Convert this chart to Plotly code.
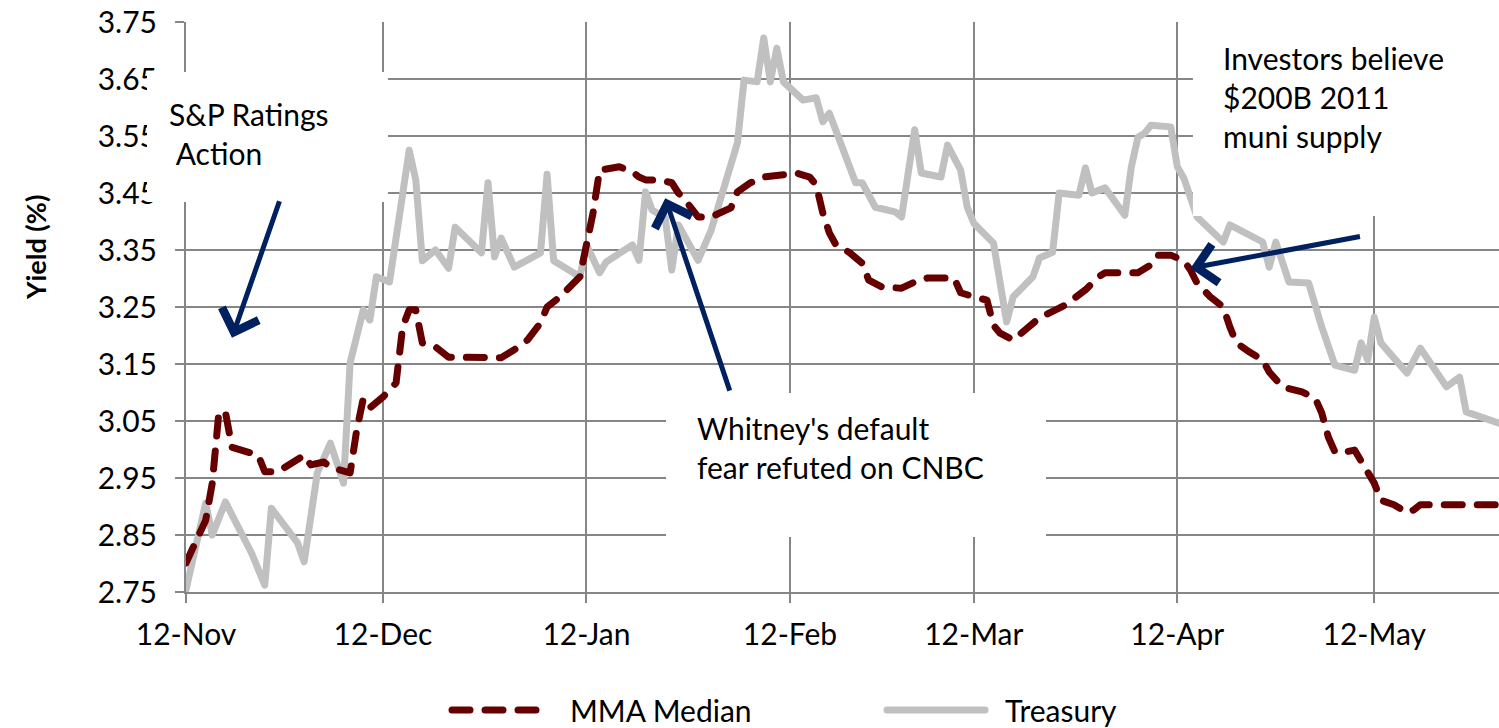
import plotly.graph_objects as go

# ---------------- data ----------------
month_ticks = ["2010-11-12", "2010-12-12", "2011-01-12", "2011-02-12",
               "2011-03-12", "2011-04-12", "2011-05-12"]
month_labels = ["12-Nov", "12-Dec", "12-Jan", "12-Feb", "12-Mar", "12-Apr", "12-May"]

y_ticks = [2.75, 2.85, 2.95, 3.05, 3.15, 3.25, 3.35, 3.45, 3.55, 3.65, 3.75]
y_labels = ["2.75", "2.85", "2.95", "3.05", "3.15", "3.25", "3.35", "3.45", "3.55", "3.65", "3.75"]

treasury_dates = [
    "2010-11-12", "2010-11-15", "2010-11-16", "2010-11-18", "2010-11-22", "2010-11-24", "2010-11-25", "2010-11-27", "2010-11-29", "2010-11-30",
    "2010-12-02", "2010-12-04", "2010-12-06", "2010-12-07", "2010-12-09", "2010-12-10", "2010-12-11", "2010-12-13", "2010-12-16", "2010-12-17",
    "2010-12-18", "2010-12-20", "2010-12-22", "2010-12-23", "2010-12-27", "2010-12-28", "2010-12-29", "2010-12-30", "2011-01-01", "2011-01-05",
    "2011-01-06", "2011-01-07", "2011-01-11", "2011-01-12", "2011-01-14", "2011-01-15", "2011-01-19", "2011-01-20", "2011-01-21", "2011-01-22",
    "2011-01-24", "2011-01-25", "2011-01-26", "2011-01-29", "2011-01-31", "2011-02-04", "2011-02-05", "2011-02-07", "2011-02-08", "2011-02-09",
    "2011-02-10", "2011-02-11", "2011-02-14", "2011-02-16", "2011-02-17", "2011-02-18", "2011-02-22", "2011-02-23", "2011-02-25", "2011-02-28",
    "2011-03-01", "2011-03-03", "2011-03-04", "2011-03-07", "2011-03-08", "2011-03-10", "2011-03-11", "2011-03-12", "2011-03-15", "2011-03-17",
    "2011-03-18", "2011-03-21", "2011-03-22", "2011-03-24", "2011-03-25", "2011-03-28", "2011-03-29", "2011-03-30", "2011-04-01", "2011-04-04",
    "2011-04-05", "2011-04-06", "2011-04-07", "2011-04-08", "2011-04-11", "2011-04-12", "2011-04-13", "2011-04-15", "2011-04-19", "2011-04-20",
    "2011-04-25", "2011-04-26", "2011-04-27", "2011-04-29", "2011-05-02", "2011-05-04", "2011-05-06", "2011-05-09", "2011-05-10", "2011-05-11",
    "2011-05-12", "2011-05-13", "2011-05-17", "2011-05-19", "2011-05-23", "2011-05-25", "2011-05-26", "2011-05-31",
]
treasury_values = [
    2.754, 2.906, 2.850, 2.908, 2.818, 2.762, 2.897, 2.864, 2.836, 2.803,
    2.959, 3.011, 2.941, 3.152, 3.245, 3.227, 3.303, 3.294, 3.525, 3.473,
    3.331, 3.350, 3.318, 3.390, 3.345, 3.468, 3.338, 3.371, 3.320, 3.345,
    3.483, 3.331, 3.303, 3.359, 3.310, 3.329, 3.359, 3.332, 3.452, 3.420,
    3.406, 3.315, 3.394, 3.332, 3.385, 3.538, 3.648, 3.645, 3.722, 3.645,
    3.704, 3.645, 3.613, 3.617, 3.575, 3.590, 3.468, 3.468, 3.425, 3.417,
    3.408, 3.561, 3.485, 3.478, 3.534, 3.490, 3.425, 3.397, 3.362, 3.224,
    3.268, 3.303, 3.336, 3.346, 3.450, 3.446, 3.494, 3.450, 3.459, 3.411,
    3.496, 3.548, 3.555, 3.569, 3.566, 3.496, 3.476, 3.408, 3.364, 3.394,
    3.364, 3.320, 3.364, 3.294, 3.292, 3.215, 3.148, 3.139, 3.187, 3.157,
    3.232, 3.187, 3.134, 3.178, 3.110, 3.127, 3.066, 3.046,
]

mma_dates = [
    "2010-11-12", "2010-11-15", "2010-11-16", "2010-11-17", "2010-11-18", "2010-11-19", "2010-11-23", "2010-11-24", "2010-11-26", "2010-11-30",
    "2010-12-01", "2010-12-03", "2010-12-04", "2010-12-07", "2010-12-08", "2010-12-09", "2010-12-10", "2010-12-12", "2010-12-14", "2010-12-15",
    "2010-12-16", "2010-12-17", "2010-12-18", "2010-12-20", "2010-12-22", "2010-12-30", "2011-01-01", "2011-01-03", "2011-01-05", "2011-01-06",
    "2011-01-08", "2011-01-10", "2011-01-11", "2011-01-13", "2011-01-14", "2011-01-17", "2011-01-19", "2011-01-20", "2011-01-21", "2011-01-23",
    "2011-01-25", "2011-01-26", "2011-01-27", "2011-01-29", "2011-01-31", "2011-02-03", "2011-02-04", "2011-02-06", "2011-02-08", "2011-02-11",
    "2011-02-13", "2011-02-15", "2011-02-16", "2011-02-17", "2011-02-18", "2011-02-19", "2011-02-21", "2011-02-23", "2011-02-24", "2011-02-26",
    "2011-03-01", "2011-03-03", "2011-03-05", "2011-03-09", "2011-03-10", "2011-03-12", "2011-03-14", "2011-03-15", "2011-03-16", "2011-03-18",
    "2011-03-20", "2011-03-22", "2011-03-25", "2011-03-26", "2011-03-29", "2011-03-31", "2011-04-01", "2011-04-06", "2011-04-08", "2011-04-09",
    "2011-04-11", "2011-04-13", "2011-04-14", "2011-04-15", "2011-04-17", "2011-04-19", "2011-04-20", "2011-04-21", "2011-04-23", "2011-04-25",
    "2011-04-26", "2011-04-28", "2011-05-01", "2011-05-03", "2011-05-04", "2011-05-05", "2011-05-06", "2011-05-07", "2011-05-09", "2011-05-11",
    "2011-05-12", "2011-05-13", "2011-05-15", "2011-05-17", "2011-05-18", "2011-05-19", "2011-05-31",
]
mma_values = [
    2.801, 2.876, 2.941, 3.064, 3.066, 3.004, 2.990, 2.961, 2.961, 2.990,
    2.973, 2.978, 2.969, 2.959, 3.034, 3.089, 3.073, 3.092, 3.117, 3.215,
    3.245, 3.245, 3.187, 3.180, 3.162, 3.161, 3.175, 3.192, 3.222, 3.250,
    3.268, 3.289, 3.303, 3.415, 3.490, 3.496, 3.487, 3.478, 3.473, 3.473,
    3.468, 3.450, 3.438, 3.408, 3.408, 3.424, 3.452, 3.468, 3.478, 3.482,
    3.485, 3.478, 3.464, 3.415, 3.380, 3.359, 3.346, 3.327, 3.297, 3.285,
    3.283, 3.294, 3.301, 3.301, 3.275, 3.268, 3.262, 3.218, 3.204, 3.192,
    3.211, 3.231, 3.248, 3.254, 3.280, 3.303, 3.310, 3.310, 3.324, 3.341,
    3.341, 3.331, 3.315, 3.292, 3.268, 3.250, 3.215, 3.187, 3.171, 3.157,
    3.136, 3.110, 3.101, 3.090, 3.064, 3.022, 2.996, 2.994, 2.999, 2.964,
    2.941, 2.911, 2.903, 2.889, 2.894, 2.903, 2.903,
]

# ---------------- figure ----------------
FONT = "Lato, 'Open Sans', sans-serif"
GRID = "#868686"

fig = go.Figure()
fig.add_trace(go.Scatter(
    x=treasury_dates, y=treasury_values, name="Treasury", mode="lines",
    line=dict(color="#C0C0C0", width=7), legendrank=2,
))
fig.add_trace(go.Scatter(
    x=mma_dates, y=mma_values, name="MMA Median", mode="lines",
    line=dict(color="#660000", width=7, dash="18px,15px"), legendrank=1,
))

axis_common = dict(
    showgrid=True, gridcolor=GRID, gridwidth=2,
    showline=True, linecolor=GRID, linewidth=2,
    ticks="outside", ticklen=9, tickwidth=2, tickcolor=GRID,
    tickfont=dict(family=FONT, size=30, color="black"),
    zeroline=False,
)

fig.update_layout(
    width=1499, height=728,
    margin=dict(l=186, r=0, t=22, b=136, autoexpand=False),
    paper_bgcolor="white", plot_bgcolor="white",
    font=dict(family=FONT, color="black"),
    xaxis=dict(type="date", range=["2010-11-12", "2011-05-31"],
               tickmode="array", tickvals=month_ticks, ticktext=month_labels,
               ticklabelstandoff=6, **axis_common),
    yaxis=dict(range=[2.75, 3.75], tickmode="array", tickvals=y_ticks, ticktext=y_labels,
               ticklabelstandoff=12, **axis_common),
    showlegend=True,
    legend=dict(orientation="h", x=0.262, xanchor="left", y=-0.207, yanchor="middle",
                font=dict(family=FONT, size=30, color="black"),
                entrywidth=390, entrywidthmode="pixels",
                bgcolor="rgba(0,0,0,0)"),
)

# white callout boxes (paper coords), drawn above the lines
boxes = [
    (-0.0297, 0.6842, 0.1538, 0.9123),
    (0.3656, 0.0965, 0.6550, 0.3491),
    (0.7669, 0.6596, 1.02, 1.0),
]
for x0, y0, x1, y1 in boxes:
    fig.add_shape(type="rect", xref="paper", yref="paper", x0=x0, y0=y0, x1=x1, y1=y1,
                  fillcolor="white", line=dict(width=0), layer="above")

ann_font = dict(family=FONT, size=30, color="black")
fig.add_annotation(xref="paper", yref="paper", x=-0.0145, y=0.805, xanchor="left", yanchor="middle",
                   text="S&P Ratings<br> Action", showarrow=False, align="left", font=ann_font)
fig.add_annotation(xref="paper", yref="paper", x=0.3880, y=0.253, xanchor="left", yanchor="middle",
                   text="Whitney's default<br>fear refuted on CNBC", showarrow=False, align="left", font=ann_font)
fig.add_annotation(xref="paper", yref="paper", x=0.7885, y=0.868, xanchor="left", yanchor="middle",
                   text="Investors believe<br>$200B 2011<br>muni supply", showarrow=False, align="left", font=ann_font)

# arrows
arrow_color = "#002060"
arrows = [
    ("2010-11-19", 3.196, 48, -138),
    ("2011-01-24", 3.441, 65, 194),
    ("2011-04-14", 3.318, 171, -32),
]
for ax_date, ay_val, dx, dy in arrows:
    fig.add_annotation(x=ax_date, y=ay_val, xref="x", yref="y", ax=dx, ay=dy,
                       axref="pixel", ayref="pixel", text="", showarrow=True,
                       arrowhead=4, arrowsize=1.5, arrowwidth=5, arrowcolor=arrow_color,
                       standoff=0)

# y axis title
fig.add_annotation(xref="paper", yref="paper", x=-0.115, y=0.6035, xanchor="center", yanchor="middle",
                   text="<b>Yield (%)</b>", textangle=-90, showarrow=False,
                   font=dict(family=FONT, size=27, color="black"))

js = """
document.body.style.margin = '0';
document.body.style.padding = '0';
var gd = document.getElementById('{plot_id}');
function styleLines(){
  gd.querySelectorAll('path.js-line').forEach(function(p){
    p.style.strokeLinecap='round'; p.style.strokeLinejoin='round';
  });
  gd.querySelectorAll('.legend [clip-path]').forEach(function(e){
    e.removeAttribute('clip-path');
  });
  gd.querySelectorAll('.legend path.js-line').forEach(function(p){
    p.setAttribute('d', 'M-78,0h98');
  });
}
styleLines();
gd.on('plotly_afterplot', styleLines);
"""
fig.write_html("out.html", post_script=js, config={"displayModeBar": False})
